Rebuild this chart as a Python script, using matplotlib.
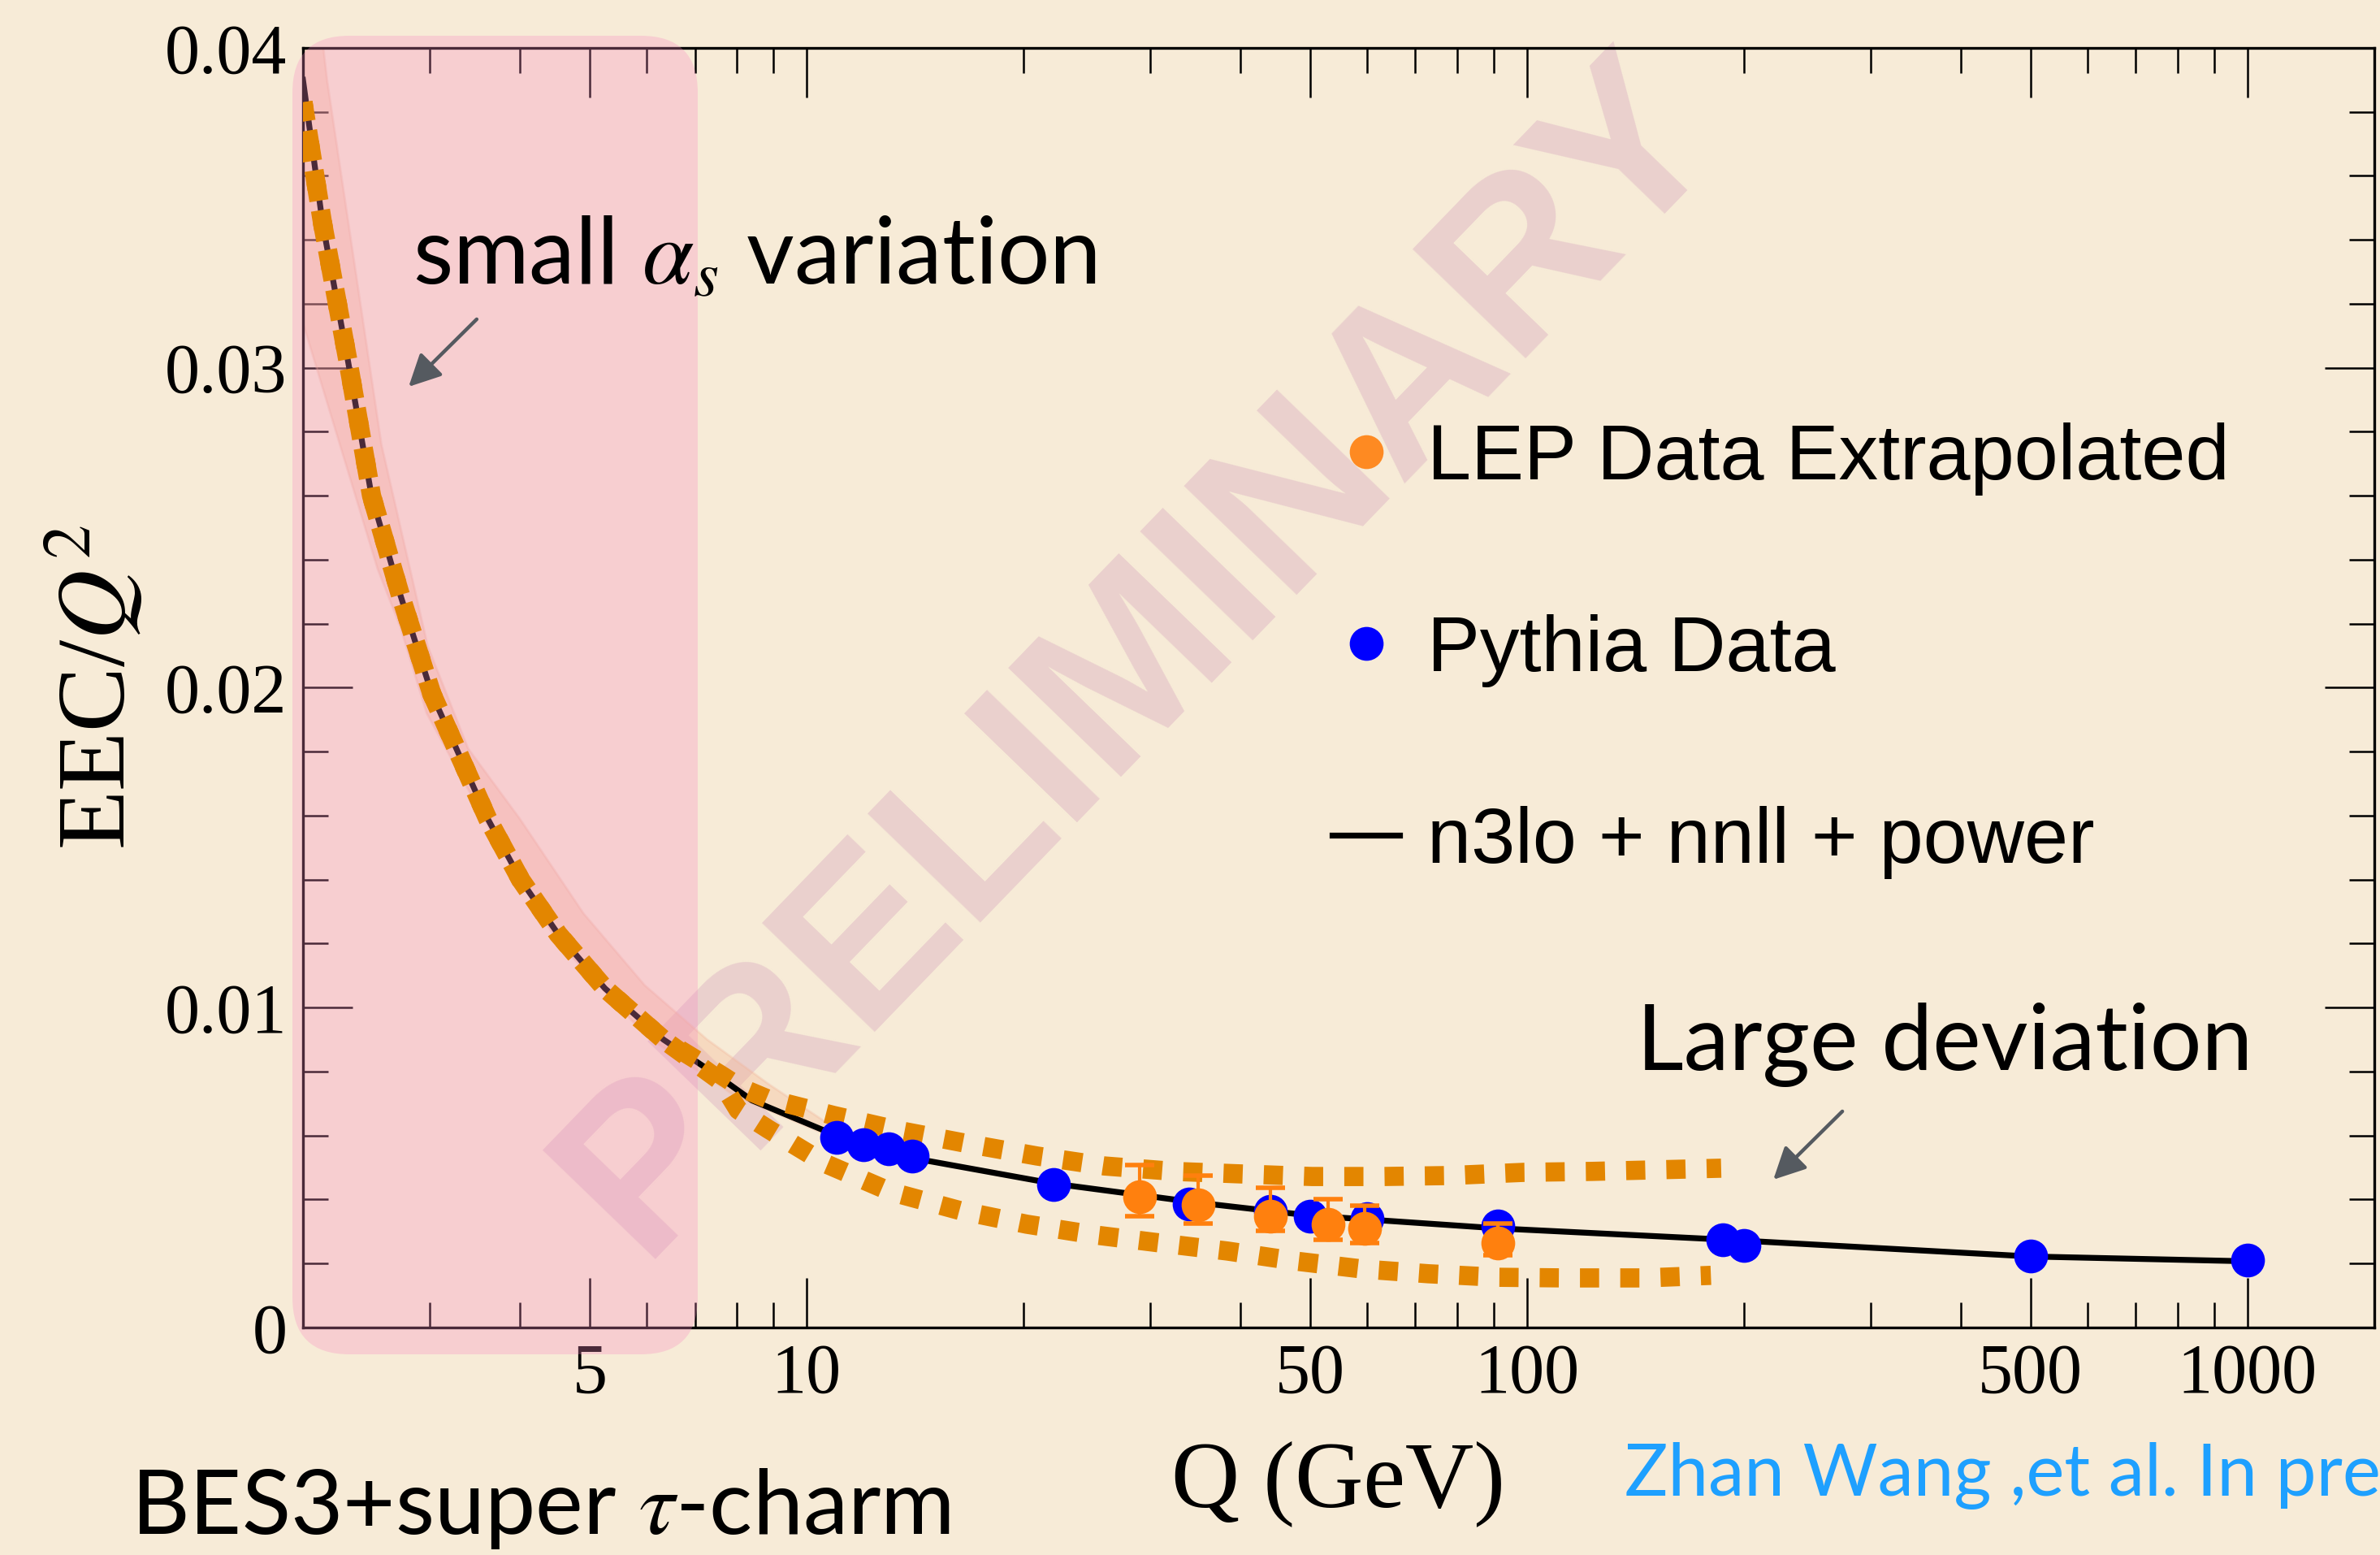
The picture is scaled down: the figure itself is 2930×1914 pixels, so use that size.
import matplotlib.pyplot as plt
from matplotlib.lines import Line2D
from matplotlib.patches import FancyBboxPatch
from matplotlib.ticker import FixedLocator, FuncFormatter, MultipleLocator, NullFormatter

plt.rcParams['font.family'] = ['Liberation Serif', 'DejaVu Serif']
plt.rcParams['mathtext.fontset'] = 'stix'

BG = '#f7ebd7'
ORANGE = '#ff800e'
DASH = '#e38600'

# theory: n3lo + nnll + power
theory_q = [2.0, 2.13, 2.31, 2.49, 2.73, 3.02, 3.31, 3.61, 4.01, 4.52, 5.25, 6.33,
            7.49, 8.4, 11, 14, 22, 35, 50, 91, 187, 500, 1000]
theory_eec = [0.0390, 0.0345, 0.0302, 0.0260, 0.0229, 0.0198, 0.0178, 0.0159, 0.0140,
              0.0123, 0.0106, 0.0090, 0.0079, 0.0071, 0.0060, 0.0053, 0.0045, 0.0039,
              0.0035, 0.0031, 0.00275, 0.00222, 0.00207]

# small alpha_s variation band
band_hi_q = [2.0, 2.16, 2.57, 2.98, 3.39, 4.0, 4.9, 5.96, 7.28, 8.87, 11, 14]
band_hi = [0.0455, 0.0390, 0.0276, 0.0213, 0.0181, 0.0159, 0.01295, 0.0107, 0.0090,
           0.0076, 0.0062, 0.0054]
band_lo_q = [2.0, 2.3, 2.54, 2.73, 2.97, 3.63, 4.5, 6.0, 8.0, 11, 14]
band_lo = [0.0314, 0.0269, 0.0237, 0.0219, 0.0192, 0.0156, 0.0121, 0.0091, 0.0072,
           0.0059, 0.0052]

# large deviation curves (dashed)
dev_up_q = [2.0, 2.13, 2.31, 2.49, 2.73, 3.02, 3.31, 3.61, 4.01, 4.52, 5.25, 6.33, 7.6,
            8.1, 8.8, 10.9, 13.5, 16.8, 20.9, 25.9, 32.4, 40.2, 50.3, 63, 78, 99, 123,
            152, 186]
dev_up = [0.0383, 0.0345, 0.0302, 0.0260, 0.0229, 0.0198, 0.0178, 0.0159, 0.0140, 0.0123,
          0.0106, 0.0090, 0.0079, 0.0075, 0.00716, 0.00663, 0.00615, 0.00574, 0.00536,
          0.00505, 0.00488, 0.0048, 0.00472, 0.00472, 0.00475, 0.00485, 0.00488,
          0.00493, 0.00498]
dev_lo_q = [2.0, 2.13, 2.31, 2.49, 2.73, 3.02, 3.31, 3.61, 4.01, 4.52, 5.25, 6.33, 7.6,
            8.04, 8.85, 10.6, 13.1, 16.3, 20.2, 25, 31, 38.4, 47.6, 59, 73, 91, 113,
            146, 180]
dev_lo = [0.0383, 0.0345, 0.0302, 0.0260, 0.0229, 0.0198, 0.0178, 0.0159, 0.0140, 0.0123,
          0.0106, 0.0090, 0.0077, 0.0068, 0.0062, 0.00513, 0.00424, 0.00366, 0.00323,
          0.0029, 0.00264, 0.00239, 0.00208, 0.00183, 0.00168, 0.00157, 0.00155,
          0.00155, 0.00163]

# Pythia points
pythia_q = [11, 12, 13, 14, 22, 34, 44, 50, 60, 91.2, 187, 200, 500, 1000]
pythia_eec = [0.00594, 0.00571, 0.00559, 0.00536, 0.00447, 0.00386, 0.00362, 0.00348,
              0.0034, 0.00318, 0.00274, 0.00257, 0.00223, 0.00211]

# LEP data extrapolated
lep_q = [29, 35, 44, 53, 59.5, 91.2]
lep_eec = [0.00409, 0.00384, 0.00348, 0.00323, 0.0031, 0.00264]
lep_up = [0.00099, 0.00091, 0.00089, 0.00078, 0.00071, 0.00061]
lep_dn = [0.00061, 0.00059, 0.00046, 0.00049, 0.00046, 0.00038]

x_major = [5, 10, 50, 100, 500, 1000]
x_minor = [2, 3, 4, 6, 7, 8, 9, 20, 30, 40, 60, 70, 80, 90,
           200, 300, 400, 600, 700, 800, 900]

fig = plt.figure(figsize=(14.65, 9.57), dpi=200, facecolor=BG)
ax = fig.add_axes([0.1273, 0.1463, 0.8703, 0.8229], facecolor=BG)

# watermark (under everything)
ax.text(0.479, 0.5778, 'PRELIMINARY', transform=fig.transFigure, rotation=46,
        ha='center', va='center', fontsize=101, fontweight='bold',
        family='Liberation Sans', color='#ead0cd', zorder=1, clip_on=False)

ax.fill(band_hi_q + band_lo_q[::-1], band_hi + band_lo[::-1],
        fc='#f5b08a', alpha=0.3, ec='#f2b49a', lw=1, zorder=2)
ax.plot(theory_q, theory_eec, color='black', lw=2.6, zorder=2.2)

# BES3 + super tau-charm region
box = FancyBboxPatch((1.8, 1.235), 2.495, 8.115,
                     boxstyle='round,pad=0,rounding_size=0.35',
                     transform=fig.dpi_scale_trans, fc='#f78cc0', alpha=0.3,
                     ec='none', zorder=3)
ax.add_patch(box)
box.set_clip_on(False)

ax.plot(dev_up_q, dev_up, color=DASH, lw=8.5, ls=(0, (1.0, 1.1)),
        dash_capstyle='butt', zorder=4)
ax.plot(dev_lo_q, dev_lo, color=DASH, lw=8.5, ls=(0.6, (1.0, 1.1)),
        dash_capstyle='butt', zorder=4)

ax.plot(pythia_q, pythia_eec, 'o', color='blue', ms=15, mec='none', zorder=5)
ax.errorbar(lep_q, lep_eec, yerr=[lep_dn, lep_up], fmt='o', color=ORANGE, ms=15,
            mec='none', elinewidth=1.5, capsize=6.5, capthick=2, zorder=6)

ax.set_xscale('log')
ax.set_xlim(2, 1500)
ax.set_ylim(0, 0.04)
ax.xaxis.set_major_locator(FixedLocator(x_major))
ax.xaxis.set_minor_locator(FixedLocator(x_minor))
ax.xaxis.set_major_formatter(FuncFormatter(lambda v, p: f'{v:g}'))
ax.xaxis.set_minor_formatter(NullFormatter())
ax.yaxis.set_major_locator(MultipleLocator(0.01))
ax.yaxis.set_minor_locator(MultipleLocator(0.002))
ax.yaxis.set_major_formatter(FuncFormatter(lambda v, p: '0' if abs(v) < 1e-9 else f'{v:.2f}'))
ax.tick_params(which='both', direction='in', top=True, right=True, width=0.9,
               color='black', labelsize=31, pad=7)
ax.tick_params(which='major', length=22)
ax.tick_params(which='minor', length=11)
for s in ax.spines.values():
    s.set_linewidth(1.2)

ax.set_xlabel('Q (GeV)', fontsize=42, va='baseline')
ax.xaxis.set_label_coords(0.5, -0.1397)
ax.set_ylabel('EEC/$Q^2$', fontsize=43, va='center', ha='center')
ax.yaxis.set_label_coords(-0.1008, 0.5)

handles = [Line2D([], [], marker='o', color=ORANGE, ls='none', ms=15, mec='none', alpha=0.9),
           Line2D([], [], marker='o', color='blue', ls='none', ms=15, mec='none'),
           Line2D([], [], color='black', lw=2.6)]
labels = ['LEP Data Extrapolated', 'Pythia Data', 'n3lo + nnll + power']
ax.legend(handles, labels, loc='upper left', bbox_to_anchor=(0.478, 0.738),
          frameon=False, prop={'family': 'Liberation Sans', 'size': 35},
          handlelength=0.85, handletextpad=0.35, labelspacing=1.5, borderpad=0)

sans = ['Lato', 'DejaVu Sans']
fig.text(0.1734, 0.8182, r'small $\alpha_s$ variation', family=sans, fontsize=41,
         va='baseline', zorder=7)
fig.text(0.6877, 0.3119, 'Large deviation', family=sans, fontsize=40.5, va='baseline')
fig.text(0.0549, 0.01358, r'BES3+super $\tau$-charm', family=sans, fontsize=40,
         va='baseline')
fig.text(0.6826, 0.0381, 'Zhan Wang ,et al. In preparation', family=sans, fontsize=32,
         color='#1ea0ff', va='baseline')

arrow = dict(arrowstyle='-|>', color='#555a60', lw=1.6, mutation_scale=30,
             shrinkA=0, shrinkB=0)
ax.annotate('', xy=(0.1717, 0.7513), xytext=(0.2003, 0.7947),
            xycoords='figure fraction', textcoords='figure fraction', arrowprops=arrow)
ax.annotate('', xy=(0.7451, 0.2414), xytext=(0.7741, 0.2853),
            xycoords='figure fraction', textcoords='figure fraction', arrowprops=arrow)

fig.savefig('out.png', dpi=200, facecolor=BG)
